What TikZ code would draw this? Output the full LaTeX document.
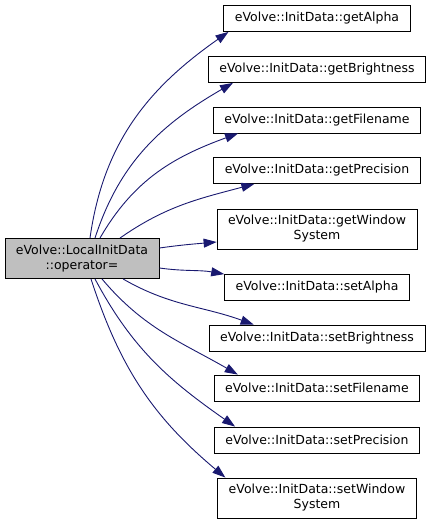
\documentclass[tikz,border=0pt]{standalone}
\usepackage{fontspec}
\setsansfont{DejaVu Sans}
\usetikzlibrary{arrows.meta}
\definecolor{callblue}{RGB}{25,25,112}

\tikzset{
  fn/.style={draw, rectangle, line width=0.8pt, align=center,
    font=\sffamily\fontsize{12.5}{15}\selectfont,
    inner xsep=11pt, inner ysep=6.5pt, minimum height=26pt},
  call/.style={->, draw=callblue, line width=0.9pt},
}

\begin{document}
\begin{tikzpicture}[x=1pt, y=1pt, >={Triangle[length=13pt,width=9pt]}]
  \useasboundingbox (0,0) rectangle (432,-524);
  \node[fn, fill=gray!50] (main) at (82,-258.5) {eVolve::LocalInitData\\::operator=};
  \foreach \n/\t/\y in {getAlpha/getAlpha/18.5, getBrightness/getBrightness/69.5,
      getFilename/getFilename/120, getPrecision/getPrecision/170.5,
      getWindowSystem/getWindow\\System/229, setAlpha/setAlpha/287.5,
      setBrightness/setBrightness/338, setFilename/setFilename/388,
      setPrecision/setPrecision/440, setWindowSystem/setWindow\\System/498} {
    \node[fn] (\n) at (317,-\y) {eVolve::InitData::\t};
  }
  % calls going up
  \draw[call] ([xshift=8pt]main.north) to[out=82,in=215] ([xshift=5pt]getAlpha.south west);
  \draw[call] ([xshift=13pt]main.north) to[out=72,in=210] ([xshift=25pt]getBrightness.south west);
  \draw[call] ([xshift=18pt]main.north) to[out=60,in=200] ([xshift=25pt]getFilename.south west);
  \draw[call] ([xshift=38pt]main.north) to[out=35,in=195] ([xshift=41pt]getPrecision.south west);
  \draw[call] ([yshift=10.5pt]main.east) to[out=8,in=185] ([yshift=-13pt]getWindowSystem.west);
  % calls going down
  \draw[call] ([yshift=-9.5pt]main.east) to[out=-8,in=170] (setAlpha.north west);
  \draw[call] ([xshift=41pt]main.south) to[out=-30,in=160] ([xshift=45pt]setBrightness.north west);
  \draw[call] ([xshift=20pt]main.south) to[out=-50,in=150] ([xshift=24pt]setFilename.north west);
  \draw[call] ([xshift=13pt]main.south) to[out=-62,in=145] ([xshift=21pt]setPrecision.north west);
  \draw[call] ([xshift=9pt]main.south) to[out=-72,in=140] ([xshift=8pt]setWindowSystem.north west);
\end{tikzpicture}
\end{document}
